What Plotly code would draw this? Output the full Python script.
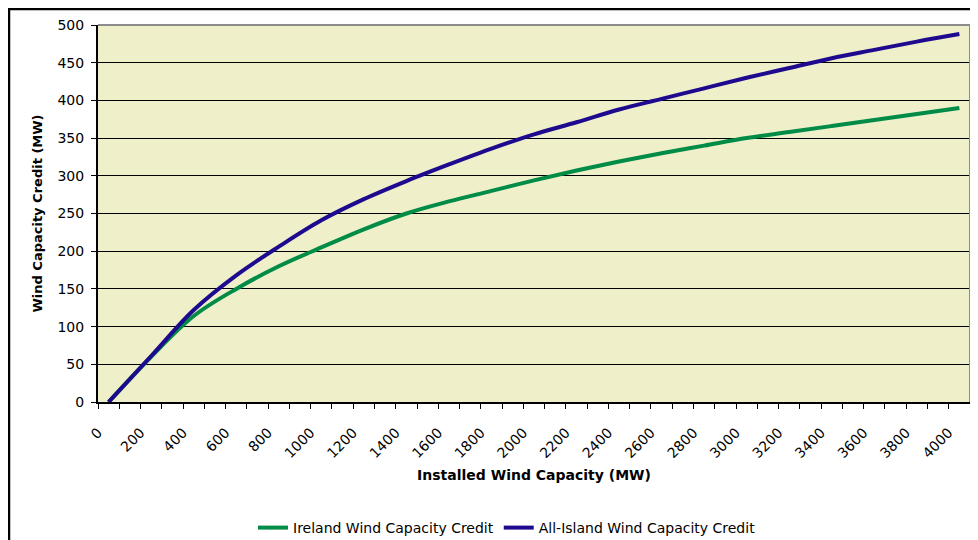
import plotly.graph_objects as go

# Installed wind capacity (MW)
capacity = [50, 250, 450, 650, 850, 1050, 1250, 1450, 1650, 1850, 2050,
            2250, 2450, 2650, 2850, 3050, 3250, 3450, 3650, 3850, 4050]
# Wind capacity credit (MW)
ireland = [0, 60, 114, 150, 180, 205, 229, 250, 266, 280, 294,
           307, 319, 330, 340, 350, 358, 366, 374, 382, 390]
all_island = [0, 61, 122, 168, 206, 241, 269, 293, 315, 336, 355,
              371, 388, 402, 416, 430, 443, 456, 467, 478, 488]

x_tick_vals = list(range(0, 4001, 200))
x_tick_text = [str(v) for v in x_tick_vals]
y_tick_vals = list(range(0, 501, 50))

FONT = "DejaVu Sans"

fig = go.Figure()
fig.add_trace(go.Scatter(x=capacity, y=ireland, mode="lines",
                         name="Ireland Wind Capacity Credit",
                         line=dict(color="#008C46", width=4, shape="spline")))
fig.add_trace(go.Scatter(x=capacity, y=all_island, mode="lines",
                         name="All-Island Wind Capacity Credit",
                         line=dict(color="#1E0A8E", width=4, shape="spline")))

# page is shown with an 8px body margin, so work in shifted coordinates
OFF = 8
W, H = 978 - OFF, 540 - OFF
L, T = 98 - OFF, 25 - OFF
R = W - (970 - OFF)
B = H - (402 - OFF)
pw, ph = W - L - R, H - T - B


def px_x(x):
    return (x - OFF - L) / pw


def px_y(y):
    return (H - B - (y - OFF)) / ph


fig.update_layout(
    width=W, height=H,
    margin=dict(l=L, r=R, t=T, b=B, pad=0, autoexpand=False),
    paper_bgcolor="white",
    plot_bgcolor="#EFEFCA",
    font=dict(family=FONT, size=14, color="black"),
    showlegend=True,
    legend=dict(orientation="h", x=px_x(507), xanchor="center",
                y=px_y(528), yanchor="middle",
                font=dict(family=FONT, size=14, color="black"),
                bgcolor="rgba(0,0,0,0)", itemwidth=30, tracegroupgap=0),
    xaxis=dict(
        range=[0, 4100], tickmode="array", tickvals=x_tick_vals,
        ticktext=x_tick_text, tickangle=-45, automargin=False,
        ticks="outside", ticklen=5, tickwidth=1, tickcolor="black",
        ticklabelstandoff=10,
        minor=dict(ticks="outside", dtick=100, tick0=0, ticklen=5,
                   tickcolor="black", tickwidth=1, showgrid=False),
        showline=True, linecolor="black", linewidth=2,
        showgrid=False, zeroline=False,
        tickfont=dict(family=FONT, size=14, color="black"),
        title=dict(text="<b>Installed Wind Capacity (MW)</b>",
                   font=dict(family=FONT, size=14, color="black"),
                   standoff=10),
    ),
    yaxis=dict(
        range=[0, 500], tickmode="array", tickvals=y_tick_vals,
        ticks="outside", ticklen=5, tickwidth=1, tickcolor="black",
        ticklabelstandoff=4, automargin=False,
        showline=True, linecolor="black", linewidth=2,
        showgrid=True, gridcolor="black", gridwidth=1, zeroline=False,
        tickfont=dict(family=FONT, size=14, color="black"),
        title=dict(text="<b>Wind Capacity Credit (MW)</b>",
                   font=dict(family=FONT, size=13, color="black"),
                   standoff=12),
    ),
)

# plot area border (top and right, grey)
fig.add_shape(type="line", xref="paper", yref="paper", x0=0, x1=1, y0=1, y1=1,
              line=dict(color="#8C8C8C", width=2), layer="above")
fig.add_shape(type="line", xref="paper", yref="paper", x0=1, x1=1, y0=0, y1=1,
              line=dict(color="#8C8C8C", width=2), layer="above")
# outer chart border
fig.add_shape(type="rect", xref="paper", yref="paper",
              x0=px_x(9), x1=px_x(1000),
              y0=px_y(570), y1=px_y(9),
              line=dict(color="black", width=2.5), fillcolor="rgba(0,0,0,0)",
              layer="above")

fig.write_html("out.html")
